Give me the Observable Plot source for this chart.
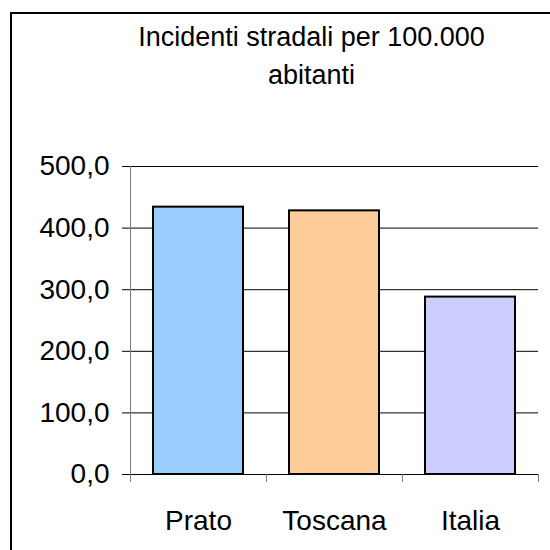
<!DOCTYPE html>
<html>
<head>
<meta charset="utf-8">
<script src="https://cdn.jsdelivr.net/npm/d3@7"></script>
<script src="https://cdn.jsdelivr.net/npm/@observablehq/plot@0.6"></script>
<style>
  html, body { margin: 0; padding: 0; background: #fff; overflow: hidden; }
  #wrap { position: relative; width: 550px; height: 550px; overflow: hidden; }
  #border { position: absolute; left: 10px; top: 12px; width: 600px; height: 600px;
            border-left: 2px solid #000; border-top: 2px solid #000; box-sizing: border-box; }
  #chart { position: absolute; left: 0; top: 0; }
</style>
</head>
<body>
<div id="wrap"><div id="border"></div><div id="chart"></div></div>
<script>
const categories = ["Prato", "Toscana", "Italia"];
const values = [434, 428, 288];
const colors = ["#99CCFF", "#FFCC99", "#CCCCFF"];
const yTicks = [0, 100, 200, 300, 400, 500];
const title = "Incidenti stradali per 100.000\nabitanti";

const data = categories.map((c, i) => ({category: c, value: values[i], color: colors[i]}));

const width = 550, height = 550;
const mL = 130, mR = 12, mT = 166, mB = 76;
const step = (width - mL - mR) / categories.length;
const fs = 28;
const fsTitle = 27;

const chart = Plot.plot({
  width, height,
  marginLeft: mL, marginRight: mR, marginTop: mT, marginBottom: mB,
  style: {fontFamily: "'Liberation Sans', Arial, sans-serif", fontSize: fs + "px", color: "#000", background: "transparent"},
  x: {domain: categories, paddingInner: 0.34, paddingOuter: 0.17, label: null},
  y: {domain: [0, 500], label: null},
  marks: [
    Plot.gridY(yTicks, {stroke: "#000", strokeOpacity: 1}),
    Plot.axisY(yTicks, {tickSize: 8, tickPadding: 13, tickFormat: d => d.toFixed(1).replace(".", ","), fontSize: fs, label: null, stroke: "#000"}),
    Plot.frame({anchor: "left", stroke: "#808080"}),
    Plot.barY(data, {x: "category", y: "value", fill: "color", stroke: "#000", strokeWidth: 2}),
    Plot.axisX({tickSize: 0, tickPadding: 36, fontSize: fs, label: null}),
    Plot.axisX({tickSize: 8, tickFormat: () => "", dx: -step / 2, stroke: "#808080", label: null}),
    Plot.axisX(categories.slice(-1), {tickSize: 8, tickFormat: () => "", dx: step / 2, stroke: "#808080", label: null}),
    Plot.text([title], {frameAnchor: "top", dx: -23, dy: -147, lineAnchor: "top", lineHeight: 1.39, fontSize: fsTitle, fill: "#000"})
  ]
});
document.getElementById("chart").appendChild(chart);
</script>
</body>
</html>
